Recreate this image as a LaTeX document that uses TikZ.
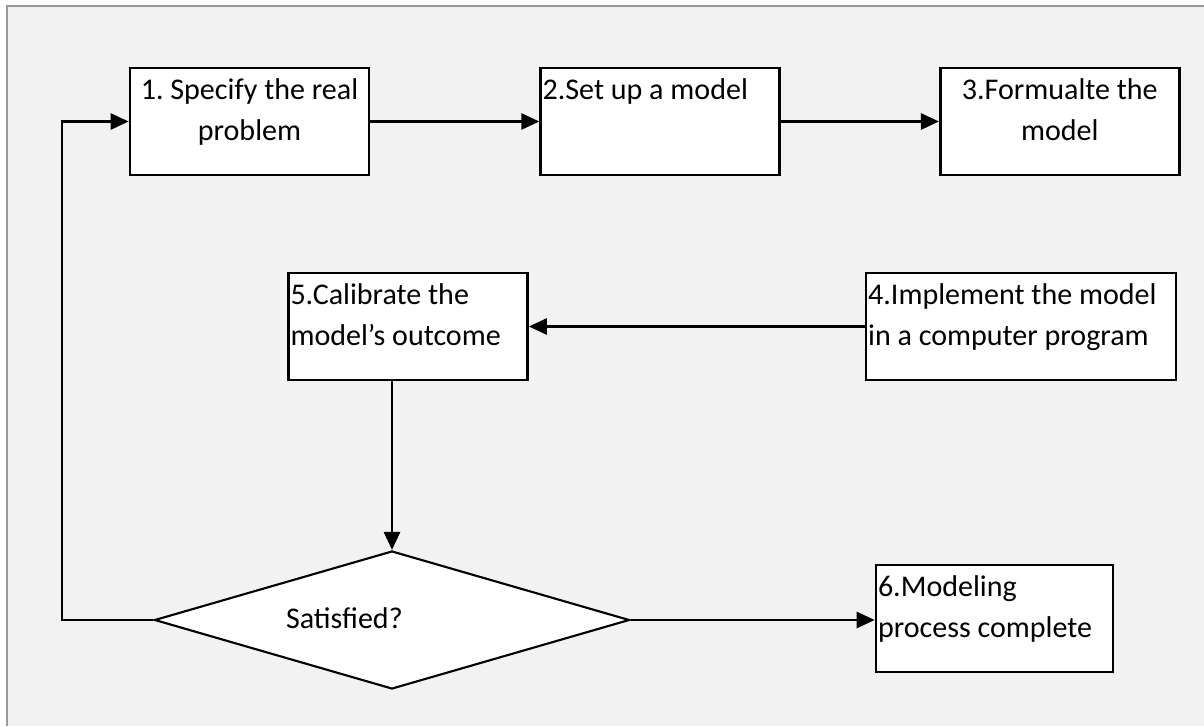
\documentclass[tikz,border=0pt]{standalone}
\usepackage{fontspec}
\setmainfont{Carlito}
\usepackage{tikz}
\usetikzlibrary{positioning}
\usetikzlibrary{shapes.geometric}
\usetikzlibrary{arrows.meta}
\frenchspacing
\newcommand{\boxtext}[2]{\parbox[c][2.04cm][t]{#1}{\strut#2}}

\begin{document}
\begin{tikzpicture}[
font=\fontsize{17.1pt}{23.3pt}\selectfont,
stepbox/.style={rectangle, draw=black, fill=white, line width=1.5pt, inner xsep=0.04cm, inner ysep=0.05cm},
decisionnode/.style={diamond, draw=black, fill=white, line width=1.2pt, aspect=3.44, minimum width=9.5cm, minimum height=2.76cm, inner sep=0pt},
flow/.style={-{Triangle[length=0.36cm, width=0.32cm]}, line width=1.5pt},
]
%Background
\useasboundingbox (0,0) rectangle (24.08,-14.52);
\fill[gray!10] (0.14,-0.12) rectangle (24.08,-14.52);
\draw[black!40, line width=1.3pt] (0.14,-14.52) -- (0.14,-0.12) -- (24.08,-0.12);

%Nodes
\node[stepbox]		(specify)		at (4.99,-2.43)			{\boxtext{4.7cm}{\centering 1. Specify the real\\problem}};
\node[stepbox]		(setup)			[right=3.38cm of specify]	{\boxtext{4.7cm}{\raggedright 2.Set up a model}};
\node[stepbox]		(formulate)		[right=3.16cm of setup]		{\boxtext{4.7cm}{\centering 3.Formualte the\\model}};
\node[stepbox]		(calibrate)		at (8.16,-6.53)			{\boxtext{4.7cm}{\raggedright 5.Calibrate the\\model’s outcome}};
\node[stepbox]		(implement)		[right=6.72cm of calibrate]	{\boxtext{6.12cm}{\raggedright 4.Implement the model\\in a computer program}};
\node[decisionnode]	(satisfied)		at (7.84,-12.4)			{\makebox[4.24cm][l]{\vphantom{Sp}Satisfied?}};
\node[stepbox]		(complete)		at (19.89,-12.37)		{\boxtext{4.66cm}{\raggedright 6.Modeling\\process complete}};
\coordinate			(loopcorner)	at (1.24,-12.4);

%Lines
\draw[flow] (specify.east) -- (setup.west);
\draw[flow] (setup.east) -- (formulate.west);
\draw[flow] (implement.west) -- (calibrate.east);
\draw[flow] (calibrate.south -| satisfied.north) -- (satisfied.north);
\draw[flow] (satisfied.east) -- (satisfied.east -| complete.west);
\draw[flow] (satisfied.west) -- (loopcorner) |- (specify.west);
\end{tikzpicture}
\end{document}
